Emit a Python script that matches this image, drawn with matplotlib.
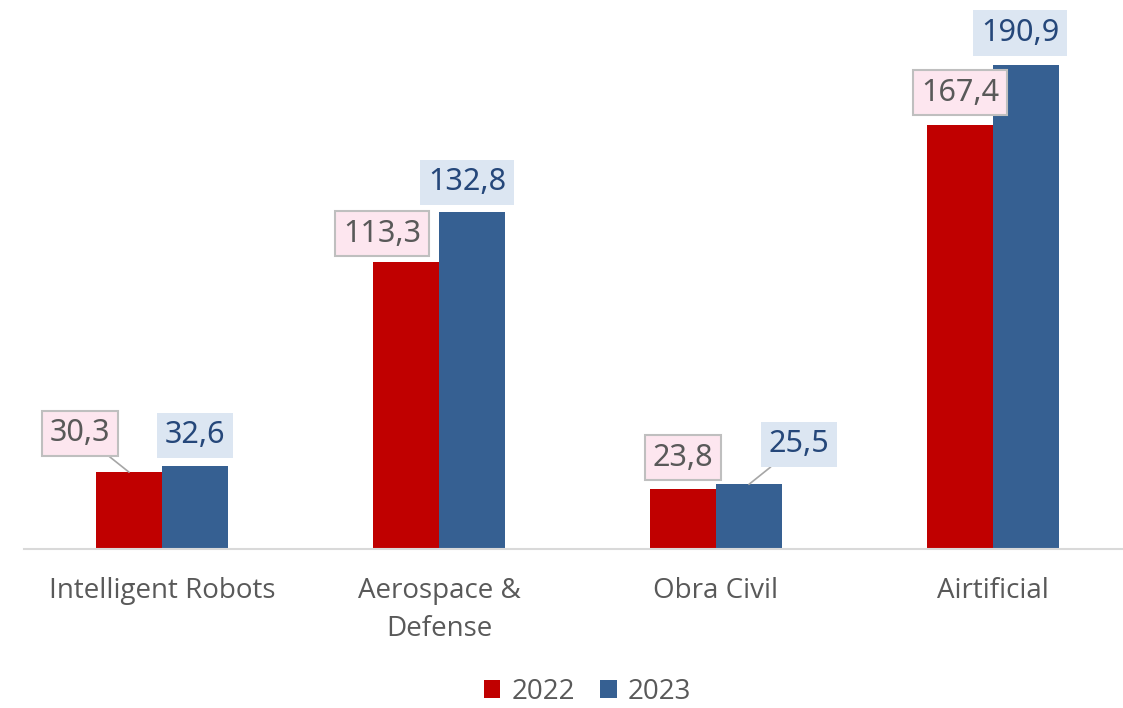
import matplotlib.pyplot as plt
import numpy as np

categories = ['Intelligent Robots', 'Aerospace &\nDefense', 'Obra Civil', 'Airtificial']
years = ['2022', '2023']
vals_2022 = [30.3, 113.3, 23.8, 167.4]
vals_2023 = [32.6, 132.8, 25.5, 190.9]

red = '#C00000'
blue = '#366092'

fig = plt.figure(figsize=(11.23, 7.08), dpi=100)
ax = fig.add_axes([23.5 / 1123, 159 / 708, 1108 / 1123, 507 / 708])

x = np.arange(len(categories))
w = 0.238
b1 = ax.bar(x - w / 2, vals_2022, w, color=red, label=years[0])
b2 = ax.bar(x + w / 2, vals_2023, w, color=blue, label=years[1])

ax.set_xlim(-0.5, 3.5)
ax.set_ylim(0, 200)
ax.set_yticks([])
for s in ['top', 'right', 'left']:
    ax.spines[s].set_visible(False)
ax.spines['bottom'].set_color('#D9D9D9')
ax.spines['bottom'].set_linewidth(1.5)

ax.set_xticks(x)
ax.set_xticklabels(categories, fontsize=20, color='#595959', family='Open Sans',
                   linespacing=1.5)
ax.tick_params(axis='x', length=0, pad=20)


def fmt(v):
    return f'{v:.1f}'.replace('.', ',')


# label offsets in pixels (dx, dy) and whether a leader line is drawn
off_2022 = [(-49, 39, True), (-24, 28, False), (0, 31, False), (0, 32, False)]
off_2023 = [(0, 31, False), (-5, 30, False), (50, 40, True), (-6, 32, False)]

for bars, vals, offs, fc, ec, tc in [
        (b1, vals_2022, off_2022, '#FDE6EF', '#BFBFBF', '#595959'),
        (b2, vals_2023, off_2023, '#DCE6F2', 'none', '#25477A')]:
    for bar, v, (dx, dy, lead) in zip(bars, vals, offs):
        xc = bar.get_x() + bar.get_width() / 2
        arrow = None
        if lead:
            arrow = dict(arrowstyle='-', color='#A6A6A6', lw=1.2,
                         shrinkA=0, shrinkB=0)
        ax.annotate(fmt(v), (xc, v), xytext=(dx, dy), textcoords='offset pixels',
                    ha='center', va='center', fontsize=22, color=tc,
                    family='Noto Sans', fontweight='light',
                    bbox=dict(boxstyle='square,pad=0.25', fc=fc, ec=ec, lw=1.5),
                    arrowprops=arrow, annotation_clip=False)

leg = fig.legend(loc='center', bbox_to_anchor=(0.523, 1 - 692 / 708), ncol=2,
                 frameon=False, handlelength=0.6, handleheight=0.6,
                 handletextpad=0.4, columnspacing=0.9,
                 prop={'family': 'Open Sans', 'size': 20})
for t in leg.get_texts():
    t.set_color('#595959')

fig.savefig('out.png', dpi=100)
